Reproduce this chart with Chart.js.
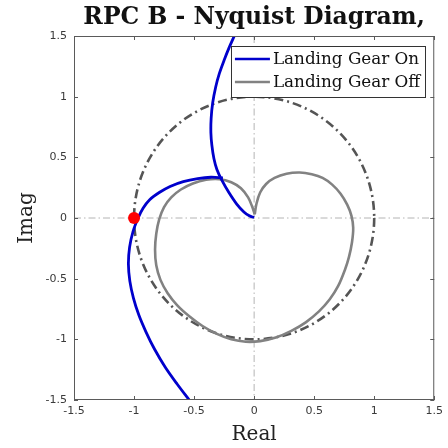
<!DOCTYPE html>
<html><head><meta charset="utf-8">
<script src="https://cdn.jsdelivr.net/npm/chart.js@4.4.0/dist/chart.umd.min.js"></script>
<style>html,body{margin:0;padding:0;background:#fff;}</style>
</head><body>
<canvas id="c" width="448" height="448"></canvas>
<script>
const titleText = 'RPC B - Nyquist Diagram,';
const xLabel = 'Real';
const yLabel = 'Imag';
const seriesNames = ['Landing Gear On', 'Landing Gear Off'];
const tickValues = [-1.5, -1, -0.5, 0, 0.5, 1, 1.5];

// Landing Gear On (blue) - upper branch (from top down to origin)
const onUpperX = [-0.165, -0.21, -0.25, -0.29, -0.32, -0.345, -0.358, -0.36, -0.352, -0.335, -0.31, -0.268, -0.21, -0.145, -0.085, -0.04, 0.0];
const onUpperY = [1.5, 1.40, 1.30, 1.19, 1.08, 0.95, 0.82, 0.70, 0.60, 0.49, 0.40, 0.31, 0.21, 0.115, 0.05, 0.018, 0.004];
// Landing Gear On (blue) - lower branch (from bottom up to the loop)
const onLowerX = [-0.54, -0.64, -0.74, -0.83, -0.90, -0.96, -1.005, -1.035, -1.047, -1.037, -1.008, -0.966, -0.925, -0.87, -0.79, -0.70, -0.59, -0.47, -0.36, -0.26];
const onLowerY = [-1.5, -1.37, -1.23, -1.08, -0.94, -0.80, -0.66, -0.52, -0.38, -0.24, -0.11, 0.0, 0.08, 0.15, 0.21, 0.26, 0.30, 0.325, 0.336, 0.33];
// Landing Gear Off (gray)
const offX = [0.005, 0.02, 0.05, 0.10, 0.17, 0.27, 0.38, 0.48, 0.57, 0.65, 0.72, 0.775, 0.81, 0.825, 0.815, 0.79, 0.755, 0.70, 0.63, 0.54, 0.43, 0.31, 0.18, 0.05, -0.07, -0.19, -0.31, -0.43, -0.54, -0.64, -0.72, -0.78, -0.815, -0.825, -0.815, -0.79, -0.75, -0.69, -0.61, -0.51, -0.40, -0.29, -0.19, -0.11, -0.05, -0.015, 0.005];
const offY = [0.03, 0.12, 0.21, 0.28, 0.33, 0.365, 0.375, 0.36, 0.33, 0.275, 0.20, 0.11, 0.02, -0.08, -0.20, -0.32, -0.43, -0.56, -0.67, -0.77, -0.86, -0.93, -0.985, -1.015, -1.02, -1.0, -0.955, -0.89, -0.81, -0.72, -0.62, -0.51, -0.39, -0.26, -0.13, -0.01, 0.09, 0.17, 0.235, 0.285, 0.315, 0.32, 0.295, 0.245, 0.17, 0.09, 0.03];
const criticalX = [-1];
const criticalY = [0];
const unitCircleRadius = 1;

const zip = (xs, ys) => xs.map((x, i) => ({x: x, y: ys[i]}));
const BLUE = '#0000cc', GRAY = '#828282';

const decor = {
  id: 'decor',
  beforeDatasetsDraw(chart) {
    const {ctx, chartArea: a, scales: {x, y}} = chart;
    ctx.save();
    ctx.beginPath(); ctx.rect(a.left, a.top, a.right - a.left, a.bottom - a.top); ctx.clip();
    ctx.strokeStyle = '#b4b4b4'; ctx.lineWidth = 1; ctx.setLineDash([7, 3, 1.5, 3]);
    const x0 = x.getPixelForValue(0), y0 = y.getPixelForValue(0);
    ctx.beginPath(); ctx.moveTo(a.left, y0); ctx.lineTo(a.right, y0); ctx.stroke();
    ctx.beginPath(); ctx.moveTo(x0, a.top); ctx.lineTo(x0, a.bottom); ctx.stroke();
    const rx = x.getPixelForValue(unitCircleRadius) - x0;
    const ry = y0 - y.getPixelForValue(unitCircleRadius);
    ctx.strokeStyle = '#555555'; ctx.lineWidth = 2.6; ctx.setLineDash([9, 4, 2, 4]);
    ctx.beginPath(); ctx.ellipse(x0, y0, rx, ry, 0, 0, Math.PI * 2); ctx.stroke();
    ctx.restore();
  },
  afterDraw(chart) {
    const {ctx, chartArea: a, scales: {x, y}} = chart;
    ctx.save();
    ctx.strokeStyle = '#5a5a5a'; ctx.lineWidth = 1; ctx.setLineDash([]);
    ctx.strokeRect(a.left + 0.5, a.top + 0.5, a.right - a.left - 1, a.bottom - a.top - 1);
    ctx.beginPath();
    tickValues.forEach(v => {
      const px = Math.round(x.getPixelForValue(v)) + 0.5;
      ctx.moveTo(px, a.bottom); ctx.lineTo(px, a.bottom - 4);
      ctx.moveTo(px, a.top); ctx.lineTo(px, a.top + 4);
      const py = Math.round(y.getPixelForValue(v)) + 0.5;
      ctx.moveTo(a.left, py); ctx.lineTo(a.left + 4, py);
      ctx.moveTo(a.right, py); ctx.lineTo(a.right - 4, py);
    });
    ctx.stroke();
    ctx.fillStyle = '#111';
    ctx.font = 'bold 23.5px "DejaVu Serif"';
    ctx.textAlign = 'center'; ctx.textBaseline = 'alphabetic';
    ctx.fillText(titleText, (a.left + a.right) / 2, 24);
    ctx.font = '20px "DejaVu Serif"';
    ctx.fillStyle = '#222';
    ctx.fillText(xLabel, (a.left + a.right) / 2, 440);
    ctx.save();
    ctx.translate(32, (a.top + a.bottom) / 2);
    ctx.rotate(-Math.PI / 2);
    ctx.fillText(yLabel, 0, 0);
    ctx.restore();
    ctx.font = '16.8px "DejaVu Serif"';
    const tw = Math.max(...seriesNames.map(s => ctx.measureText(s).width));
    const bx1 = a.right - 9, by0 = a.top + 10;
    const bx0 = bx1 - (tw + 47), by1 = by0 + 51;
    ctx.fillStyle = '#fff';
    ctx.fillRect(bx0, by0, bx1 - bx0, by1 - by0);
    ctx.strokeStyle = '#333'; ctx.lineWidth = 1;
    ctx.strokeRect(Math.round(bx0) + 0.5, by0 + 0.5, Math.round(bx1 - bx0), by1 - by0);
    const cols = [BLUE, GRAY];
    seriesNames.forEach((s, i) => {
      const ly = by0 + 13 + i * 23;
      ctx.strokeStyle = cols[i]; ctx.lineWidth = 2.6;
      ctx.beginPath(); ctx.moveTo(bx0 + 4, ly); ctx.lineTo(bx0 + 39, ly); ctx.stroke();
      ctx.fillStyle = '#111'; ctx.textAlign = 'left'; ctx.textBaseline = 'middle';
      ctx.fillText(s, bx0 + 42, ly + 1);
    });
    ctx.restore();
  }
};

const tickOpts = {
  color: '#3a3a3a',
  font: {family: 'DejaVu Sans', size: 11},
  callback: v => String(v)
};

new Chart(document.getElementById('c'), {
  type: 'scatter',
  data: {
    datasets: [
      {label: 'critical', data: zip(criticalX, criticalY), pointRadius: 6, pointBackgroundColor: '#ff0000', pointBorderWidth: 0, showLine: false, order: 0},
      {label: seriesNames[0], data: zip(onUpperX, onUpperY), showLine: true, borderColor: BLUE, borderWidth: 2.8, pointRadius: 0, tension: 0.35, order: 1},
      {label: seriesNames[0] + ' ', data: zip(onLowerX, onLowerY), showLine: true, borderColor: BLUE, borderWidth: 2.8, pointRadius: 0, tension: 0.35, order: 1},
      {label: seriesNames[1], data: zip(offX, offY), showLine: true, borderColor: GRAY, borderWidth: 2.6, pointRadius: 0, tension: 0.35, order: 2}
    ]
  },
  options: {
    responsive: false, animation: false, devicePixelRatio: 1,
    layout: {padding: {top: 36, right: 11, left: 0, bottom: 0}},
    plugins: {legend: {display: false}, tooltip: {enabled: false}, title: {display: false}},
    scales: {
      x: {
        type: 'linear', min: -1.5, max: 1.5,
        grid: {display: false, drawTicks: false}, border: {display: false},
        ticks: Object.assign({padding: 5, maxRotation: 0}, tickOpts),
        afterBuildTicks: s => { s.ticks = tickValues.map(v => ({value: v})); },
        afterFit: s => { s.height = 48; }
      },
      y: {
        type: 'linear', min: -1.5, max: 1.5,
        grid: {display: false, drawTicks: false}, border: {display: false},
        ticks: Object.assign({padding: 7}, tickOpts),
        afterBuildTicks: s => { s.ticks = tickValues.map(v => ({value: v})); },
        afterFit: s => { s.width = 74; }
      }
    }
  },
  plugins: [decor]
});
</script>
</body></html>
